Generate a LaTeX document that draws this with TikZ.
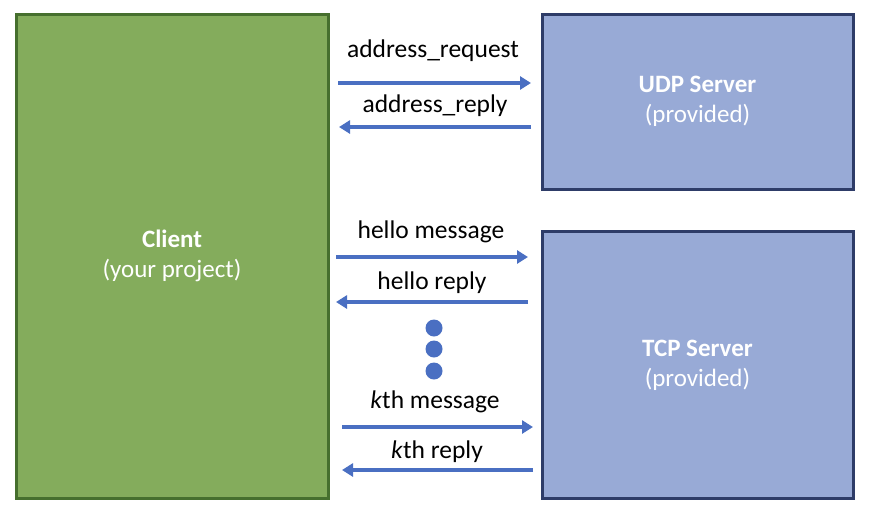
\documentclass[tikz,border=0pt]{standalone}
\usepackage{fontspec}
\setmainfont{Carlito}
\usetikzlibrary{arrows.meta}
\definecolor{cfill}{HTML}{84AC5C}
\definecolor{cdraw}{HTML}{466F2E}
\definecolor{sfill}{HTML}{98AAD6}
\definecolor{sdraw}{HTML}{2E3C68}
\definecolor{arrc}{HTML}{4A6FC2}
\begin{document}
\begin{tikzpicture}[x=1pt,y=-1pt,
  box/.style={rectangle,line width=3pt,inner sep=0pt,text=white,font=\fontsize{25}{30}\selectfont,align=center},
  clientbox/.style={box,fill=cfill,draw=cdraw},
  serverbox/.style={box,fill=sfill,draw=sdraw},
  arr/.style={draw=arrc,line width=3.2pt,-{Triangle[length=11pt,width=13pt]}},
  lbl/.style={font=\fontsize{25.5}{30}\selectfont,text=black,inner sep=0pt},
  dotc/.style={circle,fill=arrc,inner sep=0pt,minimum size=17pt}]
\useasboundingbox (0,0) rectangle (880,512);
\node[clientbox,minimum width=312pt,minimum height=484pt] (client) at (172,256) {};
\node[serverbox,minimum width=311pt,minimum height=175pt] (udp) at (697.5,101.5) {};
\node[serverbox,minimum width=311pt,minimum height=267pt] (tcp) at (697.5,364.5) {};
\node[box] (clientt) at (172,256) {\textbf{Client}\\(your project)};
\node[box] (udpt) at (697.5,101.5) {\textbf{UDP Server}\\(provided)};
\node[box] (tcpt) at (697.5,365) {\textbf{TCP Server}\\(provided)};
% coordinates for arrow ends
\coordinate (a1s) at (338,83);  \coordinate (a1e) at (531,83);
\coordinate (a2s) at (531,127); \coordinate (a2e) at (339,127);
\coordinate (b1s) at (336,257); \coordinate (b1e) at (528,257);
\coordinate (b2s) at (528,302); \coordinate (b2e) at (336,302);
\coordinate (k1s) at (342,427); \coordinate (k1e) at (533,427);
\coordinate (k2s) at (533,470); \coordinate (k2e) at (342,470);
\draw[arr] (a1s) -- (a1e);
\draw[arr] (a2s) -- (a2e);
\draw[arr] (b1s) -- (b1e);
\draw[arr] (b2s) -- (b2e);
\draw[arr] (k1s) -- (k1e);
\draw[arr] (k2s) -- (k2e);
\node[lbl] (l1) at (433,51) {address\_request};
\node[lbl] (l2) at (435,106) {address\_reply};
\node[lbl] (l3) at (431,232) {hello message};
\node[lbl] (l4) at (432,283) {hello reply};
\node[lbl] (l5) at (435,402) {\textit{k}th message};
\node[lbl] (l6) at (437,452) {\textit{k}th reply};
\node[dotc] (d1) at (434,328) {};
\node[dotc] (d2) at (434,349) {};
\node[dotc] (d3) at (434,371) {};
\end{tikzpicture}
\end{document}
